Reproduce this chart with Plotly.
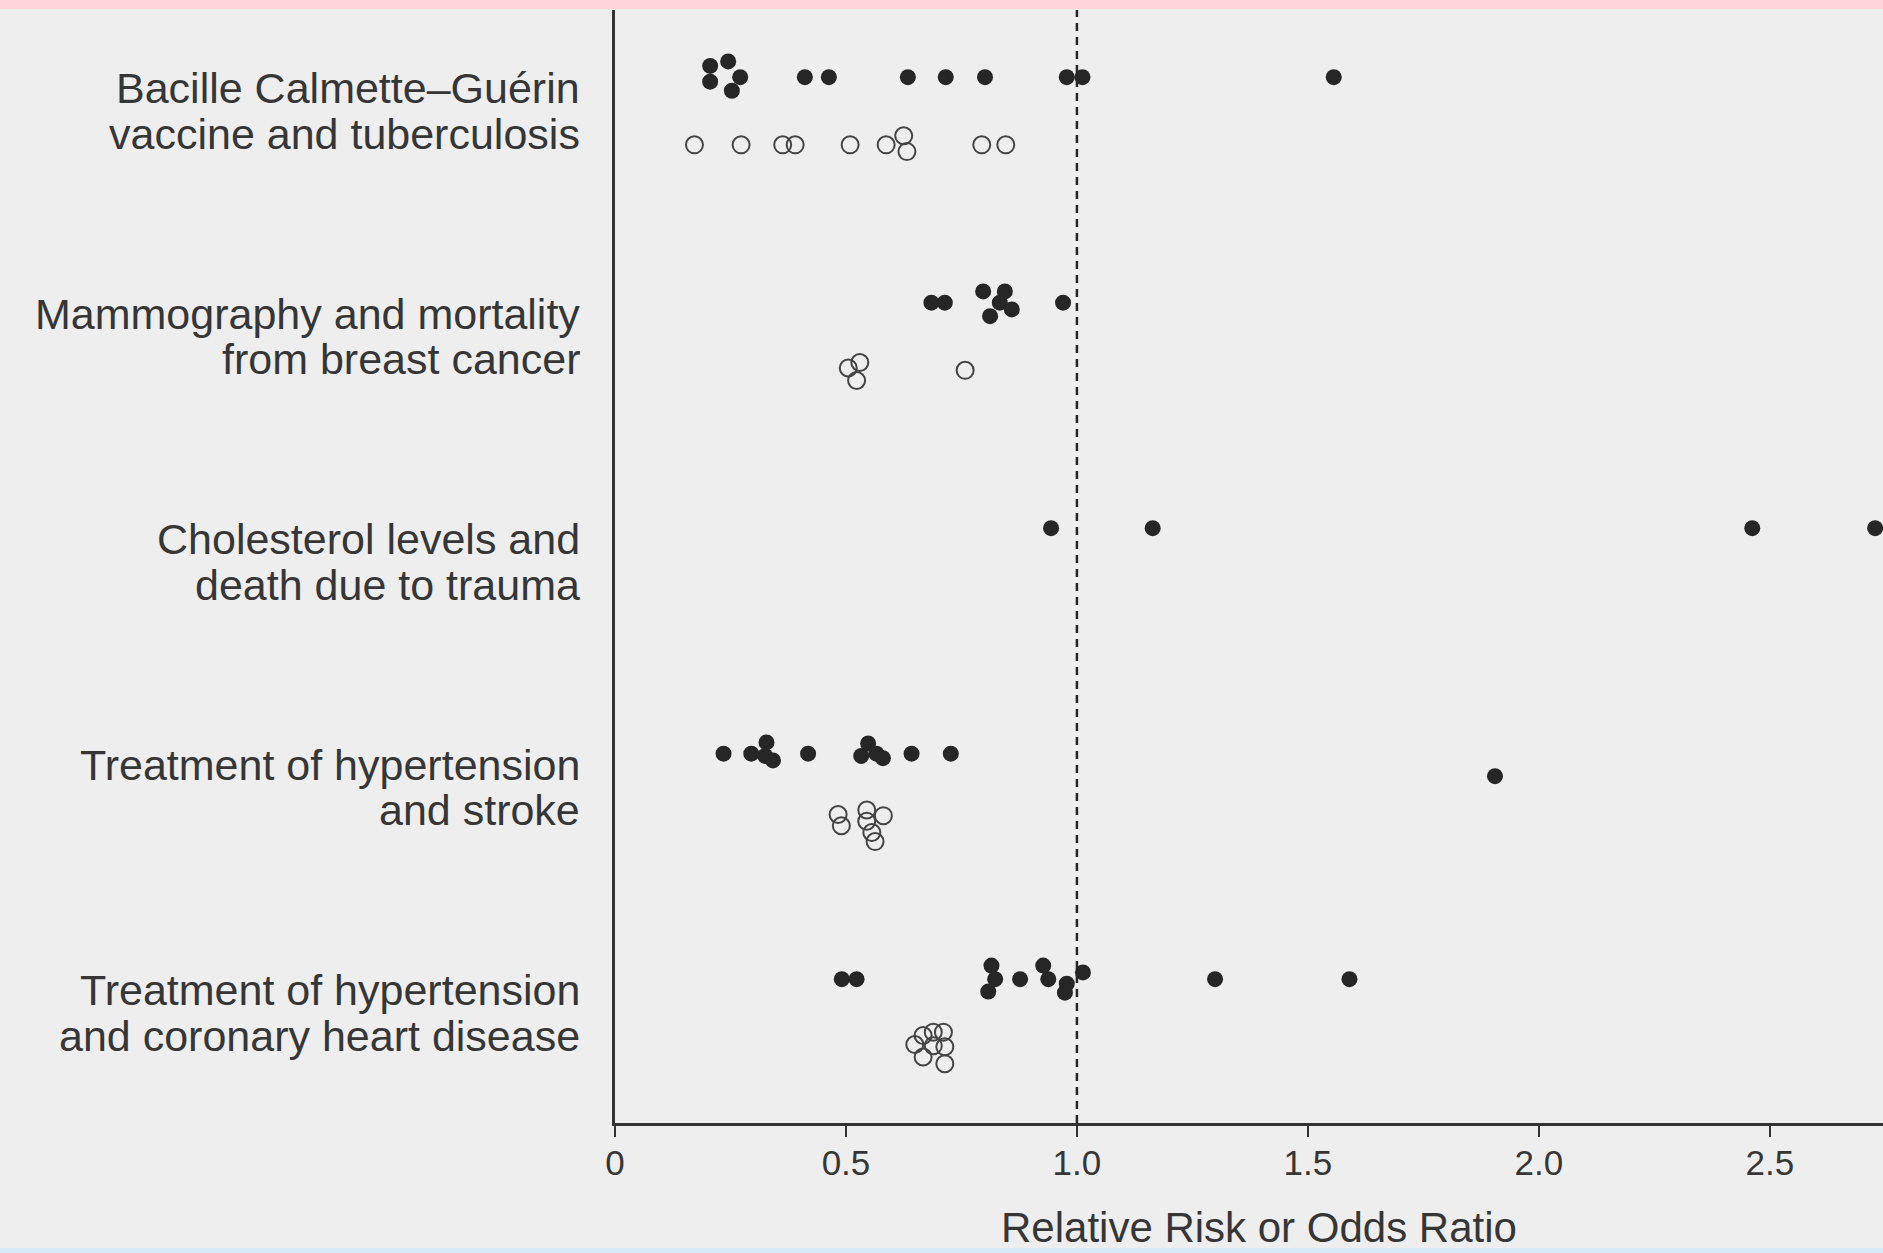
import plotly.graph_objects as go

# ---- data ----
categories = [
    "BCG vaccine and tuberculosis",
    "Mammography and mortality from breast cancer",
    "Cholesterol levels and death due to trauma",
    "Treatment of hypertension and stroke",
    "Treatment of hypertension and coronary heart disease",
]
label_lines = [
    ("Bacille Calmette\u2013Gu\u00e9rin", "vaccine and tuberculosis"),
    ("Mammography and mortality", "from breast cancer"),
    ("Cholesterol levels and", "death due to trauma"),
    ("Treatment of hypertension", "and stroke"),
    ("Treatment of hypertension", "and coronary heart disease"),
]

# filled dots (one series), open circles (second series)
bcg_filled = [0.206, 0.206, 0.245, 0.271, 0.253, 0.411, 0.463, 0.634, 0.716, 0.801, 0.978, 1.012, 1.556]
bcg_filled_jit = [0.05, -0.02, 0.07, 0.0, -0.06, 0, 0, 0, 0, 0, 0, 0, 0]
bcg_open = [0.172, 0.273, 0.363, 0.390, 0.509, 0.587, 0.625, 0.632, 0.794, 0.846]
bcg_open_jit = [0, 0, 0, 0, 0, 0, 0.04, -0.03, 0, 0]

mammo_filled = [0.685, 0.714, 0.797, 0.844, 0.859, 0.812, 0.833, 0.970]
mammo_filled_jit = [0, 0, 0.05, 0.05, -0.03, -0.06, 0.0, 0]
mammo_open = [0.505, 0.530, 0.523, 0.758]
mammo_open_jit = [0.01, 0.035, -0.045, 0]

chol_filled = [0.944, 1.164, 2.462, 2.728]
chol_filled_jit = [0, 0, 0, 0]
chol_open = []
chol_open_jit = []

stroke_filled = [0.235, 0.295, 0.328, 0.325, 0.342, 0.418, 0.533, 0.548, 0.566, 0.580, 0.642, 0.727, 1.905]
stroke_filled_jit = [0, 0, 0.05, -0.01, -0.03, 0, -0.01, 0.045, 0, -0.02, 0, 0, -0.1]
stroke_open = [0.483, 0.490, 0.545, 0.545, 0.581, 0.556, 0.563]
stroke_open_jit = [0.03, -0.02, 0.05, 0, 0.025, -0.05, -0.09]

chd_filled = [0.491, 0.523, 0.815, 0.823, 0.808, 0.877, 0.927, 0.938, 0.978, 0.974, 1.013, 1.299, 1.590]
chd_filled_jit = [0, 0, 0.06, 0, -0.055, 0, 0.06, 0, -0.02, -0.06, 0.03, 0, 0]
chd_open = [0.649, 0.667, 0.667, 0.711, 0.714, 0.689, 0.714, 0.689]
chd_open_jit = [0.01, 0.05, -0.045, 0.065, 0, 0.005, -0.075, 0.065]

filled_series = [bcg_filled, mammo_filled, chol_filled, stroke_filled, chd_filled]
filled_jits = [bcg_filled_jit, mammo_filled_jit, chol_filled_jit, stroke_filled_jit, chd_filled_jit]
open_series = [bcg_open, mammo_open, chol_open, stroke_open, chd_open]
open_jits = [bcg_open_jit, mammo_open_jit, chol_open_jit, stroke_open_jit, chd_open_jit]

tick_vals = [0, 0.5, 1.0, 1.5, 2.0, 2.5]
tick_text = ["0", "0.5", "1.0", "1.5", "2.0", "2.5"]
x_title = "Relative Risk or Odds Ratio"

# ---- styling ----
BG = "#eeeeee"
INK = "#262626"
TEXT = "#363636"
FONT = "Liberation Sans, Arial, sans-serif"

W, H = 1883, 1253
ML, MR, MT, MB = 615, 0, 10, 130
n = len(categories)
FILLED_OFF, OPEN_OFF = 0.15, -0.15

fig = go.Figure()
for i in range(n):
    row_y = (n - 1) - i
    fx = filled_series[i]
    fy = [row_y + FILLED_OFF + j for j in filled_jits[i]]
    fig.add_trace(go.Scatter(
        x=fx, y=fy, mode="markers", name=categories[i] + " (filled)",
        marker=dict(symbol="circle", size=16, color=INK, line=dict(width=0)),
        showlegend=False, cliponaxis=True,
    ))
    if open_series[i]:
        ox = open_series[i]
        oy = [row_y + OPEN_OFF + j for j in open_jits[i]]
        fig.add_trace(go.Scatter(
            x=ox, y=oy, mode="markers", name=categories[i] + " (open)",
            marker=dict(symbol="circle-open", size=17, color="#444444", line=dict(width=2)),
            showlegend=False,
        ))

plot_h = H - MT - MB
plot_w = W - ML - MR

annotations = []
for i, (l1, l2) in enumerate(label_lines):
    row_y = (n - 1) - i
    for txt, dy in ((l1, 0.10), (l2, -0.10)):
        annotations.append(dict(
            text=txt, xref="paper", x=-33 / plot_w, xanchor="right",
            yref="y", y=row_y + dy, yanchor="middle", showarrow=False,
            font=dict(family=FONT, size=43, color=TEXT),
        ))

annotations.append(dict(
    text=x_title, xref="x", x=1.394, xanchor="center",
    yref="paper", y=-(1227 - (H - MB)) / plot_h, yanchor="middle", showarrow=False,
    font=dict(family=FONT, size=42, color=TEXT),
))

shapes = [
    dict(type="line", xref="x", x0=1.0, x1=1.0, yref="paper", y0=0, y1=1,
         line=dict(color=INK, width=2.5, dash="8px,6px")),
    # pink strip at top of page
    dict(type="rect", xref="paper", x0=-ML / plot_w, x1=1, yref="paper",
         y0=1 + 1 / plot_h, y1=1 + MT / plot_h, fillcolor="#ffd5dc", line=dict(width=0), layer="above"),
    # light blue strip at bottom of page
    dict(type="rect", xref="paper", x0=-ML / plot_w, x1=1, yref="paper",
         y0=-MB / plot_h, y1=-(MB - 5) / plot_h, fillcolor="#d6eaf8", line=dict(width=0), layer="above"),
]

fig.update_layout(
    width=W, height=H,
    margin=dict(l=ML, r=MR, t=MT, b=MB, pad=0),
    paper_bgcolor=BG, plot_bgcolor=BG,
    font=dict(family=FONT, color=TEXT),
    annotations=annotations, shapes=shapes,
    showlegend=False,
    xaxis=dict(
        range=[0, 2.745], tickvals=tick_vals, ticktext=tick_text,
        showline=True, linecolor="#333333", linewidth=2.5,
        ticks="outside", ticklen=11, tickwidth=2, tickcolor="#333333",
        tickfont=dict(family=FONT, size=35, color=TEXT), ticklabelstandoff=-4,
        showgrid=False, zeroline=False, fixedrange=True,
    ),
    yaxis=dict(
        range=[-0.488, 4.448], showticklabels=False, ticks="",
        showline=True, linecolor="#333333", linewidth=2.5,
        showgrid=False, zeroline=False, fixedrange=True,
    ),
)

fig.write_html(
    "out.html",
    config={"displayModeBar": False},
    post_script="document.body.style.margin='0';document.body.style.overflow='hidden';",
)
